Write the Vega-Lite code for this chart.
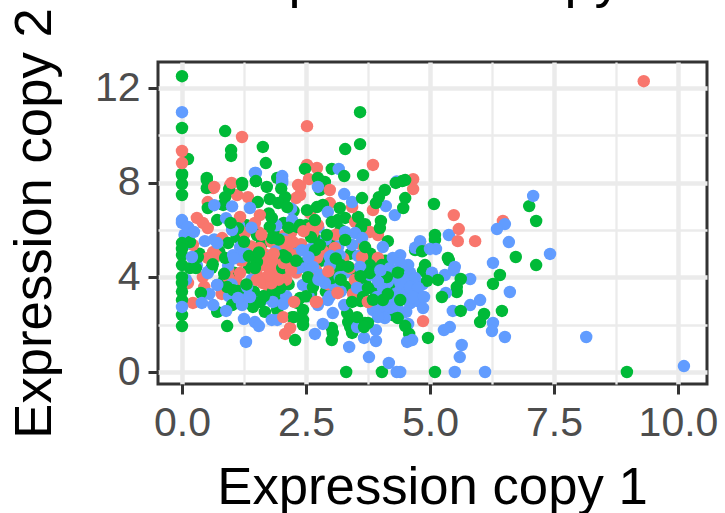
{"$schema":"https://vega.github.io/schema/vega-lite/v6.json","width":549,"height":322,"autosize":{"type":"none"},"padding":{"left":158,"top":62,"right":18,"bottom":129},"background":"white","title":{"text":"Expression copy","font":"Liberation Sans","fontSize":54,"fontWeight":"normal","color":"black","anchor":"middle","baseline":"alphabetic","offset":-43,"dx":-9},"view":{"fill":"white","stroke":"#333333","strokeWidth":3},"data":{"values":[
{"x":0.35,"y":5.0,"g":"b"},{"x":0.6,"y":4.4,"g":"b"},{"x":0.75,"y":5.1,"g":"b"},{"x":0.85,"y":3.9,"g":"b"},{"x":1.05,"y":4.2,"g":"b"},{"x":1.1,"y":5.7,"g":"b"},{"x":1.3,"y":6.2,"g":"b"},{"x":1.35,"y":4.4,"g":"b"},{"x":1.45,"y":3.4,"g":"b"},{"x":1.6,"y":5.4,"g":"b"},{"x":1.65,"y":3.2,"g":"b"},{"x":1.75,"y":6.7,"g":"b"},{"x":1.85,"y":5.9,"g":"b"},{"x":1.95,"y":3.1,"g":"b"},{"x":2.05,"y":6.3,"g":"b"},{"x":2.15,"y":3.7,"g":"b"},{"x":2.25,"y":6.8,"g":"b"},{"x":2.35,"y":5.3,"g":"b"},{"x":2.45,"y":4.6,"g":"b"},{"x":2.5,"y":6.2,"g":"b"},{"x":2.6,"y":3.3,"g":"b"},{"x":2.7,"y":5.6,"g":"b"},{"x":2.8,"y":4.7,"g":"b"},{"x":2.9,"y":3.4,"g":"b"},{"x":3.0,"y":5.4,"g":"b"},{"x":3.1,"y":4.4,"g":"b"},{"x":3.2,"y":6.0,"g":"b"},{"x":3.3,"y":3.6,"g":"b"},{"x":3.4,"y":5.0,"g":"b"},{"x":3.5,"y":4.2,"g":"b"},{"x":3.6,"y":3.0,"g":"b"},{"x":3.7,"y":3.7,"g":"b"},{"x":3.8,"y":5.0,"g":"b"},{"x":3.9,"y":3.4,"g":"b"},{"x":4.1,"y":4.7,"g":"b"},{"x":4.2,"y":3.7,"g":"b"},{"x":4.45,"y":4.3,"g":"b"},{"x":4.25,"y":2.4,"g":"b"},
{"x":0.45,"y":3.6,"g":"a"},{"x":0.7,"y":4.9,"g":"a"},{"x":0.8,"y":3.3,"g":"a"},{"x":1.1,"y":3.8,"g":"a"},{"x":1.2,"y":4.7,"g":"a"},{"x":1.25,"y":3.3,"g":"a"},{"x":1.4,"y":5.3,"g":"a"},{"x":1.5,"y":4.2,"g":"a"},{"x":1.55,"y":5.9,"g":"a"},{"x":1.65,"y":5.0,"g":"a"},{"x":1.7,"y":3.7,"g":"a"},{"x":1.8,"y":5.5,"g":"a"},{"x":1.9,"y":4.0,"g":"a"},{"x":2.0,"y":5.3,"g":"a"},{"x":2.1,"y":3.9,"g":"a"},{"x":2.2,"y":5.9,"g":"a"},{"x":2.3,"y":4.2,"g":"a"},{"x":2.4,"y":5.4,"g":"a"},{"x":2.5,"y":3.7,"g":"a"},{"x":2.6,"y":6.1,"g":"a"},{"x":2.7,"y":4.3,"g":"a"},{"x":2.85,"y":5.1,"g":"a"},{"x":2.95,"y":3.7,"g":"a"},{"x":3.1,"y":5.8,"g":"a"},{"x":3.25,"y":4.8,"g":"a"},{"x":3.45,"y":3.3,"g":"a"},{"x":3.6,"y":5.4,"g":"a"},{"x":3.85,"y":4.2,"g":"a"},
{"x":0.3,"y":4.5,"g":"c"},{"x":0.55,"y":3.3,"g":"c"},{"x":0.65,"y":5.6,"g":"c"},{"x":0.95,"y":3.2,"g":"c"},{"x":1.15,"y":6.2,"g":"c"},{"x":1.4,"y":3.9,"g":"c"},{"x":1.6,"y":3.0,"g":"c"},{"x":1.8,"y":4.9,"g":"c"},{"x":2.1,"y":3.2,"g":"c"},{"x":2.3,"y":5.0,"g":"c"},{"x":2.55,"y":3.2,"g":"c"},{"x":2.75,"y":6.1,"g":"c"},{"x":2.9,"y":5.6,"g":"c"},{"x":3.05,"y":3.7,"g":"c"},{"x":3.15,"y":5.3,"g":"c"},{"x":3.3,"y":4.2,"g":"c"},{"x":3.55,"y":4.9,"g":"c"},{"x":3.7,"y":3.5,"g":"c"},{"x":3.9,"y":4.3,"g":"c"},{"x":4.1,"y":3.4,"g":"c"},{"x":4.3,"y":3.3,"g":"c"},{"x":4.5,"y":3.4,"g":"c"},{"x":4.6,"y":2.9,"g":"c"},{"x":4.75,"y":3.0,"g":"c"},{"x":4.25,"y":2.9,"g":"c"},{"x":4.05,"y":2.5,"g":"c"},{"x":4.45,"y":2.5,"g":"c"},{"x":4.15,"y":3.8,"g":"c"},{"x":4.6,"y":4.2,"g":"c"},{"x":4.85,"y":3.7,"g":"c"},
{"x":1.63,"y":3.76,"g":"a"},{"x":1.51,"y":3.89,"g":"a"},{"x":1.77,"y":3.46,"g":"a"},{"x":1.98,"y":4.1,"g":"a"},{"x":1.77,"y":4.31,"g":"a"},{"x":1.61,"y":4.52,"g":"a"},{"x":1.87,"y":4.65,"g":"a"},{"x":2.08,"y":4.27,"g":"a"},{"x":2.18,"y":4.65,"g":"a"},{"x":1.71,"y":4.82,"g":"a"},{"x":1.81,"y":4.39,"g":"a"},{"x":2.12,"y":5.24,"g":"a"},{"x":1.57,"y":5.24,"g":"a"},{"x":2.24,"y":5.49,"g":"a"},{"x":2.24,"y":4.94,"g":"a"},{"x":2.08,"y":5.79,"g":"a"},{"x":1.47,"y":6.3,"g":"a"},{"x":1.57,"y":6.63,"g":"a"},{"x":1.33,"y":7.39,"g":"a"},{"x":1.11,"y":7.48,"g":"a"},{"x":2.34,"y":7.9,"g":"a"},{"x":2.38,"y":7.48,"g":"a"},{"x":2.38,"y":7.86,"g":"a"},{"x":2.3,"y":7.35,"g":"a"},{"x":2.58,"y":6.72,"g":"a"},{"x":2.74,"y":6.21,"g":"a"},{"x":2.64,"y":5.87,"g":"a"},{"x":2.72,"y":4.82,"g":"a"},{"x":3.08,"y":5.24,"g":"a"},{"x":3.39,"y":4.39,"g":"a"},{"x":3.63,"y":4.86,"g":"a"},{"x":3.95,"y":4.82,"g":"a"},{"x":3.49,"y":3.89,"g":"a"},{"x":0.93,"y":4.01,"g":"a"},{"x":1.17,"y":4.18,"g":"a"},{"x":0.93,"y":4.31,"g":"a"},{"x":0.42,"y":4.01,"g":"a"},{"x":0.12,"y":3.76,"g":"a"},{"x":0.22,"y":2.92,"g":"a"},{"x":0.81,"y":5.66,"g":"a"},{"x":0.63,"y":5.07,"g":"a"},{"x":0.52,"y":4.82,"g":"a"},{"x":0.22,"y":5.37,"g":"a"},{"x":1.27,"y":5.87,"g":"a"},{"x":1.17,"y":6.55,"g":"a"},{"x":0.3,"y":6.51,"g":"a"},{"x":0.42,"y":6.3,"g":"a"},{"x":0.52,"y":6.08,"g":"a"},{"x":0.97,"y":7.9,"g":"a"},{"x":0.63,"y":7.77,"g":"a"},{"x":0.52,"y":7.18,"g":"a"},
{"x":1.89,"y":5.1,"g":"c"},{"x":1.0,"y":3.7,"g":"c"},{"x":1.29,"y":5.0,"g":"c"},{"x":2.5,"y":4.4,"g":"c"},{"x":2.6,"y":5.2,"g":"c"},{"x":3.0,"y":4.9,"g":"c"},{"x":0.71,"y":3.68,"g":"c"},{"x":1.17,"y":3.4,"g":"c"},{"x":0.93,"y":4.5,"g":"c"},{"x":1.4,"y":3.0,"g":"c"},{"x":0.08,"y":3.9,"g":"c"},{"x":0.05,"y":5.8,"g":"c"},{"x":0.0,"y":6.3,"g":"c"},{"x":0.08,"y":5.4,"g":"c"},{"x":1.9,"y":6.2,"g":"c"},{"x":2.2,"y":6.9,"g":"c"},
{"x":0.0,"y":7.94,"g":"b"},{"x":0.0,"y":8.32,"g":"b"},{"x":0.0,"y":7.48,"g":"b"},{"x":0.5,"y":8.2,"g":"b"},{"x":0.5,"y":7.77,"g":"b"},{"x":0.95,"y":7.73,"g":"b"},{"x":1.21,"y":7.9,"g":"b"},{"x":0.87,"y":7.39,"g":"b"},{"x":0.83,"y":7.06,"g":"b"},{"x":0.52,"y":6.93,"g":"b"},{"x":1.49,"y":8.07,"g":"b"},{"x":1.71,"y":7.82,"g":"b"},{"x":1.92,"y":8.2,"g":"b"},{"x":1.53,"y":7.18,"g":"b"},{"x":1.77,"y":7.31,"g":"b"},{"x":2.08,"y":7.39,"g":"b"},{"x":1.94,"y":7.14,"g":"b"},{"x":2.12,"y":6.97,"g":"b"},{"x":1.81,"y":6.51,"g":"b"},{"x":0.71,"y":6.42,"g":"b"},{"x":1.13,"y":6.08,"g":"b"},{"x":1.77,"y":6.13,"g":"b"},{"x":1.81,"y":5.66,"g":"b"},{"x":1.51,"y":5.79,"g":"b"},{"x":2.32,"y":6.13,"g":"b"},{"x":2.04,"y":4.94,"g":"b"},{"x":2.02,"y":4.39,"g":"b"},{"x":0.16,"y":5.49,"g":"b"},{"x":0.0,"y":5.45,"g":"b"},{"x":0.0,"y":4.94,"g":"b"},{"x":0.0,"y":4.52,"g":"b"},{"x":0.32,"y":4.86,"g":"b"},{"x":0.16,"y":4.39,"g":"b"},{"x":0.28,"y":4.39,"g":"b"},{"x":0.93,"y":5.45,"g":"b"},{"x":0.87,"y":4.82,"g":"b"},{"x":1.51,"y":4.65,"g":"b"},{"x":1.47,"y":4.39,"g":"b"},
{"x":0.0,"y":4.01,"g":"b"},{"x":0.0,"y":3.76,"g":"b"},{"x":0.0,"y":3.04,"g":"b"},{"x":0.0,"y":2.41,"g":"b"},{"x":0.0,"y":1.94,"g":"b"},{"x":0.38,"y":3.34,"g":"b"},{"x":0.71,"y":2.54,"g":"b"},{"x":0.91,"y":1.94,"g":"b"},{"x":1.01,"y":2.83,"g":"b"},{"x":0.91,"y":3.59,"g":"b"},{"x":1.03,"y":3.46,"g":"b"},{"x":1.13,"y":3.42,"g":"b"},{"x":1.43,"y":2.75,"g":"b"},{"x":1.57,"y":2.96,"g":"b"},{"x":1.83,"y":3.38,"g":"b"},{"x":1.98,"y":3.55,"g":"b"},{"x":1.67,"y":2.54,"g":"b"},{"x":1.92,"y":2.62,"g":"b"},{"x":2.32,"y":2.92,"g":"b"},
{"x":0.0,"y":2.75,"g":"c"},{"x":0.4,"y":2.92,"g":"c"},{"x":0.63,"y":2.83,"g":"c"},{"x":0.89,"y":2.58,"g":"c"},{"x":1.21,"y":2.83,"g":"c"},{"x":0.52,"y":4.18,"g":"c"},{"x":0.71,"y":3.68,"g":"c"},{"x":1.31,"y":3.59,"g":"c"},{"x":1.13,"y":3.13,"g":"c"},{"x":1.37,"y":3.17,"g":"c"},{"x":1.83,"y":2.96,"g":"c"},{"x":2.04,"y":2.87,"g":"c"},{"x":1.25,"y":2.24,"g":"c"},{"x":1.47,"y":2.11,"g":"c"},{"x":1.55,"y":1.94,"g":"c"},{"x":1.29,"y":1.27,"g":"c"},{"x":1.81,"y":2.2,"g":"c"},{"x":1.92,"y":2.2,"g":"c"},
{"x":0.0,"y":6.42,"g":"c"},{"x":0.12,"y":6.13,"g":"c"},{"x":0.24,"y":5.92,"g":"c"},{"x":0.46,"y":5.53,"g":"c"},{"x":0.71,"y":5.45,"g":"c"},{"x":0.89,"y":6.5,"g":"c"},{"x":1.01,"y":6.0,"g":"c"},{"x":1.01,"y":7.0,"g":"c"},{"x":0.65,"y":7.05,"g":"c"},{"x":1.37,"y":6.93,"g":"c"},{"x":0.2,"y":4.86,"g":"c"},{"x":0.52,"y":4.23,"g":"c"},{"x":1.17,"y":5.28,"g":"c"},{"x":1.03,"y":4.94,"g":"c"},{"x":1.21,"y":4.86,"g":"c"},{"x":2.04,"y":5.62,"g":"c"},{"x":2.02,"y":7.99,"g":"c"},{"x":1.49,"y":8.41,"g":"c"},{"x":2.02,"y":8.28,"g":"c"},{"x":2.34,"y":4.39,"g":"c"},
{"x":0.98,"y":6.3,"g":"b"},{"x":1.25,"y":5.5,"g":"b"},{"x":0.0,"y":5.2,"g":"b"},{"x":0.0,"y":3.4,"g":"b"},
{"x":0.12,"y":9.0,"g":"b"},{"x":0.0,"y":8.37,"g":"b"},{"x":0.0,"y":12.5,"g":"b"},{"x":0.0,"y":10.98,"g":"c"},{"x":0.0,"y":10.31,"g":"b"},{"x":0.0,"y":9.34,"g":"a"},{"x":0.0,"y":8.83,"g":"a"},{"x":0.87,"y":10.18,"g":"b"},{"x":1.21,"y":9.93,"g":"a"},{"x":0.99,"y":9.38,"g":"b"},{"x":0.99,"y":9.13,"g":"b"},{"x":1.63,"y":9.51,"g":"b"},{"x":1.47,"y":8.41,"g":"c"},{"x":1.69,"y":8.83,"g":"b"},{"x":2.52,"y":10.39,"g":"a"},{"x":2.52,"y":8.75,"g":"a"},{"x":2.72,"y":8.62,"g":"a"},{"x":2.48,"y":8.58,"g":"b"},{"x":2.56,"y":8.15,"g":"a"},{"x":2.74,"y":8.2,"g":"b"},{"x":2.88,"y":8.03,"g":"b"},{"x":3.02,"y":8.58,"g":"b"},{"x":3.16,"y":8.58,"g":"c"},{"x":3.27,"y":8.28,"g":"b"},{"x":3.29,"y":9.42,"g":"b"},{"x":3.59,"y":10.98,"g":"b"},{"x":3.59,"y":9.63,"g":"b"},{"x":3.65,"y":8.32,"g":"b"},{"x":3.85,"y":8.75,"g":"a"},{"x":0.5,"y":8.11,"g":"b"},{"x":0.65,"y":7.82,"g":"a"},{"x":1.0,"y":7.99,"g":"a"},{"x":1.21,"y":7.99,"g":"b"},{"x":1.49,"y":8.07,"g":"b"},{"x":2.02,"y":8.11,"g":"c"},{"x":2.0,"y":7.75,"g":"b"},
{"x":2.78,"y":7.69,"g":"b"},{"x":2.98,"y":7.69,"g":"a"},{"x":2.74,"y":7.82,"g":"c"},{"x":2.98,"y":7.14,"g":"a"},{"x":2.84,"y":7.06,"g":"b"},{"x":2.72,"y":6.97,"g":"b"},{"x":2.52,"y":6.84,"g":"b"},{"x":2.94,"y":6.76,"g":"c"},{"x":2.68,"y":6.42,"g":"b"},{"x":3.02,"y":6.34,"g":"b"},{"x":3.29,"y":6.51,"g":"b"},{"x":3.14,"y":6.42,"g":"b"},{"x":3.49,"y":6.34,"g":"a"},{"x":3.55,"y":6.55,"g":"b"},{"x":3.43,"y":6.97,"g":"a"},{"x":3.18,"y":6.93,"g":"b"},{"x":3.69,"y":6.25,"g":"b"},{"x":3.79,"y":5.92,"g":"a"},{"x":3.95,"y":5.79,"g":"a"},{"x":3.61,"y":6.1,"g":"b"},{"x":2.22,"y":6.42,"g":"c"},{"x":2.38,"y":6.21,"g":"b"},{"x":3.29,"y":5.92,"g":"c"},{"x":3.49,"y":5.87,"g":"c"},{"x":3.63,"y":5.66,"g":"c"},{"x":3.43,"y":5.37,"g":"c"},{"x":3.69,"y":5.28,"g":"b"},{"x":3.29,"y":5.58,"g":"b"},{"x":2.92,"y":5.79,"g":"b"},{"x":2.78,"y":5.37,"g":"b"},{"x":2.68,"y":5.15,"g":"b"},{"x":2.42,"y":5.15,"g":"c"},{"x":3.18,"y":4.94,"g":"c"},{"x":2.98,"y":4.86,"g":"c"},{"x":3.79,"y":4.52,"g":"b"},{"x":3.59,"y":4.44,"g":"c"},{"x":3.2,"y":4.52,"g":"b"},{"x":2.98,"y":4.5,"g":"c"},{"x":2.34,"y":4.44,"g":"c"},{"x":2.64,"y":4.44,"g":"c"},{"x":4.03,"y":4.52,"g":"b"},{"x":4.19,"y":4.39,"g":"c"},
{"x":3.27,"y":7.52,"g":"c"},{"x":3.43,"y":7.18,"g":"c"},{"x":3.63,"y":7.35,"g":"b"},{"x":3.85,"y":6.84,"g":"a"},{"x":4.11,"y":7.01,"g":"c"},{"x":4.29,"y":6.63,"g":"c"},{"x":4.46,"y":6.93,"g":"b"},{"x":4.5,"y":7.35,"g":"b"},{"x":4.09,"y":7.69,"g":"b"},{"x":3.97,"y":7.39,"g":"b"},{"x":3.91,"y":7.14,"g":"b"},{"x":4.33,"y":8.05,"g":"c"},{"x":4.66,"y":8.15,"g":"a"},{"x":4.66,"y":7.73,"g":"a"},{"x":4.31,"y":7.99,"g":"b"},{"x":4.44,"y":8.07,"g":"b"},{"x":4.5,"y":8.11,"g":"b"},{"x":4.01,"y":6.38,"g":"b"},{"x":3.99,"y":6.08,"g":"b"},{"x":4.15,"y":5.53,"g":"b"},{"x":4.05,"y":5.28,"g":"c"},{"x":4.4,"y":4.94,"g":"c"},{"x":4.25,"y":4.82,"g":"c"},{"x":4.56,"y":4.52,"g":"c"},{"x":4.4,"y":4.61,"g":"c"},{"x":4.76,"y":5.24,"g":"c"},{"x":4.7,"y":5.15,"g":"b"},{"x":4.8,"y":5.49,"g":"a"},{"x":4.7,"y":5.25,"g":"c"},{"x":4.8,"y":5.53,"g":"c"},{"x":4.84,"y":5.1,"g":"b"},{"x":5.08,"y":7.1,"g":"b"},{"x":5.1,"y":5.79,"g":"b"},{"x":5.1,"y":5.58,"g":"b"},{"x":5.12,"y":5.2,"g":"c"},{"x":5.38,"y":5.79,"g":"c"},{"x":5.36,"y":4.82,"g":"b"},{"x":5.48,"y":6.63,"g":"a"},{"x":5.58,"y":6.04,"g":"a"},{"x":5.56,"y":5.53,"g":"a"},{"x":5.91,"y":5.53,"g":"a"},{"x":5.38,"y":4.73,"g":"b"},{"x":5.0,"y":5.2,"g":"c"},{"x":6.47,"y":6.38,"g":"a"},{"x":6.51,"y":6.25,"g":"c"},{"x":6.35,"y":6.04,"g":"c"},{"x":6.59,"y":5.49,"g":"c"},{"x":6.73,"y":4.86,"g":"b"},{"x":7.42,"y":4.99,"g":"c"},{"x":7.14,"y":4.52,"g":"b"},{"x":7.0,"y":7.01,"g":"b"},{"x":7.08,"y":7.44,"g":"c"},{"x":7.14,"y":6.38,"g":"b"},{"x":6.27,"y":4.61,"g":"c"},{"x":6.41,"y":4.1,"g":"b"},{"x":6.27,"y":3.72,"g":"b"},{"x":6.61,"y":3.38,"g":"c"},
{"x":4.9,"y":4.52,"g":"b"},{"x":4.86,"y":4.27,"g":"b"},{"x":5.04,"y":4.2,"g":"c"},{"x":5.5,"y":4.44,"g":"c"},{"x":5.48,"y":4.3,"g":"c"},{"x":5.3,"y":4.1,"g":"c"},{"x":5.81,"y":3.93,"g":"c"},{"x":5.62,"y":3.93,"g":"b"},{"x":4.94,"y":3.85,"g":"b"},{"x":5.16,"y":3.89,"g":"b"},{"x":5.54,"y":3.59,"g":"b"},{"x":5.54,"y":3.38,"g":"b"},{"x":5.32,"y":3.34,"g":"c"},{"x":5.24,"y":3.17,"g":"b"},
{"x":3.93,"y":3.17,"g":"c"},{"x":4.05,"y":3.55,"g":"c"},{"x":4.19,"y":3.17,"g":"c"},{"x":4.4,"y":3.46,"g":"c"},{"x":3.99,"y":2.75,"g":"c"},{"x":3.85,"y":2.62,"g":"c"},{"x":4.19,"y":2.7,"g":"c"},{"x":4.09,"y":2.28,"g":"c"},{"x":3.95,"y":2.32,"g":"c"},{"x":4.33,"y":2.75,"g":"c"},{"x":4.54,"y":3.04,"g":"c"},{"x":4.66,"y":3.17,"g":"c"},{"x":4.5,"y":3.89,"g":"c"},{"x":4.7,"y":3.97,"g":"c"},{"x":4.4,"y":3.76,"g":"c"},{"x":4.6,"y":3.59,"g":"c"},{"x":4.3,"y":4.0,"g":"c"},{"x":4.76,"y":3.55,"g":"c"},{"x":4.66,"y":3.17,"g":"c"},{"x":4.88,"y":3.17,"g":"c"},{"x":4.86,"y":2.7,"g":"c"},{"x":4.4,"y":3.04,"g":"b"},{"x":4.05,"y":3.04,"g":"b"},{"x":3.79,"y":4.18,"g":"b"},{"x":4.13,"y":4.01,"g":"b"},{"x":3.95,"y":3.8,"g":"c"},{"x":4.35,"y":4.2,"g":"b"},
{"x":4.86,"y":2.15,"g":"a"},{"x":4.52,"y":2.54,"g":"c"},{"x":4.56,"y":2.03,"g":"c"},{"x":4.5,"y":1.94,"g":"b"},{"x":4.58,"y":1.61,"g":"b"},{"x":4.96,"y":1.44,"g":"b"},{"x":4.64,"y":1.35,"g":"c"},{"x":4.54,"y":1.27,"g":"c"},{"x":4.35,"y":2.28,"g":"b"},{"x":6.01,"y":3.04,"g":"c"},{"x":5.81,"y":2.83,"g":"c"},{"x":5.46,"y":2.58,"g":"c"},{"x":5.62,"y":2.58,"g":"b"},{"x":6.45,"y":2.58,"g":"b"},{"x":6.09,"y":2.45,"g":"b"},{"x":6.01,"y":2.11,"g":"b"},{"x":6.27,"y":2.07,"g":"c"},{"x":6.25,"y":1.73,"g":"c"},{"x":6.51,"y":1.48,"g":"c"},{"x":5.4,"y":1.9,"g":"c"},{"x":5.28,"y":1.77,"g":"c"},{"x":5.64,"y":1.14,"g":"c"},{"x":5.6,"y":0.63,"g":"c"},{"x":5.1,"y":0.0,"g":"b"},{"x":5.5,"y":0.0,"g":"c"},{"x":6.11,"y":0.0,"g":"c"},{"x":4.4,"y":0.0,"g":"c"},{"x":8.15,"y":1.48,"g":"c"},{"x":8.97,"y":0.0,"g":"b"},{"x":10.12,"y":0.25,"g":"c"},{"x":9.31,"y":12.29,"g":"a"},
{"x":3.79,"y":4.1,"g":"c"},{"x":4.03,"y":0.0,"g":"b"},{"x":3.31,"y":0.0,"g":"b"},{"x":4.17,"y":0.38,"g":"c"},{"x":4.33,"y":0.0,"g":"c"},{"x":3.77,"y":0.63,"g":"c"},{"x":3.37,"y":1.06,"g":"c"},{"x":3.67,"y":1.44,"g":"c"},{"x":3.91,"y":1.31,"g":"c"},{"x":3.91,"y":1.77,"g":"c"},{"x":3.43,"y":1.65,"g":"b"},{"x":3.39,"y":1.9,"g":"b"},{"x":3.35,"y":2.11,"g":"b"},{"x":3.53,"y":1.9,"g":"c"},{"x":3.33,"y":2.49,"g":"b"},{"x":3.53,"y":2.32,"g":"b"},{"x":3.69,"y":2.07,"g":"b"},{"x":3.75,"y":2.07,"g":"b"},{"x":3.67,"y":1.9,"g":"b"},{"x":3.02,"y":1.35,"g":"b"},{"x":3.02,"y":1.86,"g":"b"},{"x":3.04,"y":1.65,"g":"b"},{"x":3.04,"y":2.49,"g":"c"},{"x":2.84,"y":2.03,"g":"c"},{"x":2.68,"y":1.61,"g":"c"},{"x":2.94,"y":3.04,"g":"c"},{"x":3.27,"y":2.83,"g":"c"},{"x":2.74,"y":2.83,"g":"c"},{"x":2.44,"y":2.62,"g":"b"},{"x":2.44,"y":2.2,"g":"b"},{"x":2.44,"y":1.99,"g":"b"},{"x":2.22,"y":2.32,"g":"b"},{"x":2.18,"y":1.86,"g":"a"},{"x":2.08,"y":1.61,"g":"a"},{"x":2.28,"y":1.35,"g":"b"},{"x":2.04,"y":2.32,"g":"a"},{"x":2.26,"y":2.32,"g":"b"},{"x":2.44,"y":3.68,"g":"c"},{"x":2.64,"y":3.59,"g":"b"},{"x":2.38,"y":3.13,"g":"b"},{"x":2.54,"y":4.01,"g":"b"},{"x":2.78,"y":4.1,"g":"c"},{"x":3.02,"y":3.97,"g":"b"},{"x":2.88,"y":3.76,"g":"c"},{"x":3.18,"y":4.01,"g":"c"},{"x":3.49,"y":3.89,"g":"a"},{"x":3.79,"y":4.18,"g":"b"},{"x":3.95,"y":3.8,"g":"c"},{"x":3.53,"y":3.55,"g":"c"},{"x":3.65,"y":3.17,"g":"b"},{"x":3.43,"y":2.96,"g":"b"},{"x":2.98,"y":3.2,"g":"c"},{"x":3.14,"y":3.34,"g":"a"},{"x":2.7,"y":2.96,"g":"a"},{"x":3.75,"y":2.96,"g":"a"},{"x":2.26,"y":2.96,"g":"a"},{"x":2.72,"y":2.96,"g":"a"},
{"x":1.65,"y":3.95,"g":"a"},{"x":1.8,"y":3.75,"g":"a"},{"x":1.95,"y":3.9,"g":"a"},{"x":2.05,"y":4.6,"g":"a"},{"x":1.75,"y":4.1,"g":"a"},{"x":1.85,"y":5.0,"g":"a"},{"x":2.2,"y":4.3,"g":"a"},{"x":1.6,"y":5.8,"g":"a"},{"x":2.1,"y":5.5,"g":"a"},{"x":1.35,"y":4.9,"g":"b"},{"x":1.55,"y":5.05,"g":"b"},{"x":2.3,"y":4.7,"g":"b"},{"x":2.6,"y":5.7,"g":"b"},{"x":1.95,"y":5.6,"g":"b"},{"x":2.15,"y":6.1,"g":"b"},{"x":1.65,"y":3.2,"g":"b"},{"x":2.5,"y":3.2,"g":"b"},{"x":3.1,"y":4.8,"g":"b"},{"x":1.4,"y":6.1,"g":"c"},{"x":2.75,"y":3.9,"g":"c"},{"x":3.2,"y":3.4,"g":"c"},{"x":1.05,"y":4.8,"g":"c"},{"x":0.62,"y":4.55,"g":"b"},{"x":0.85,"y":4.15,"g":"b"},{"x":1.3,"y":3.7,"g":"b"},{"x":2.45,"y":5.95,"g":"a"},{"x":3.35,"y":4.45,"g":"b"},{"x":3.6,"y":4.05,"g":"b"},{"x":4.0,"y":4.3,"g":"c"},{"x":3.75,"y":3.55,"g":"b"},{"x":3.2,"y":3.9,"g":"b"},{"x":2.95,"y":4.25,"g":"a"},{"x":2.55,"y":4.85,"g":"c"},{"x":2.1,"y":4.85,"g":"b"},
{"x":2.7,"y":2.96,"g":"a"},{"x":3.14,"y":3.34,"g":"a"},{"x":3.75,"y":2.96,"g":"a"},{"x":4.15,"y":3.3,"g":"b"},{"x":3.85,"y":3.05,"g":"b"}
]},
"mark":{"type":"point","filled":true,"opacity":1,"size":155,"strokeWidth":0},
"encoding":{
"x":{"field":"x","type":"quantitative","scale":{"domain":[-0.484,10.585],"nice":false,"zero":false},"axis":{"values":[0,1.25,2.5,3.75,5,6.25,7.5,8.75,10],"labelExpr":"datum.value % 2.5 === 0 ? format(datum.value,'.1f') : ''","labelFont":"Liberation Sans","labelFontSize":41,"labelColor":"#4D4D4D","labelPadding":9,"labelFlush":false,"labelOverlap":false,"domain":false,"grid":true,"gridColor":"#EBEBEB","gridWidth":{"condition":{"test":"datum.value % 2.5 === 0","value":4.5},"value":2.3},"tickColor":"#333333","tickWidth":3,"tickSize":{"condition":{"test":"datum.value % 2.5 === 0","value":10},"value":0},"title":"Expression copy 1","titleFont":"Liberation Sans","titleFontSize":52.7,"titleFontWeight":"normal","titleColor":"black","titleBaseline":"alphabetic","titleX":274,"titleY":119}},
"y":{"field":"y","type":"quantitative","scale":{"domain":[-0.507,13.1],"nice":false,"zero":false},"axis":{"values":[0,2,4,6,8,10,12],"labelExpr":"datum.value % 4 === 0 ? format(datum.value,'d') : ''","labelFont":"Liberation Sans","labelFontSize":41,"labelColor":"#4D4D4D","labelPadding":8,"labelOverlap":false,"labelFlush":false,"domain":false,"grid":true,"gridColor":"#EBEBEB","gridWidth":{"condition":{"test":"datum.value % 4 === 0","value":4.5},"value":2.3},"tickColor":"#333333","tickWidth":3,"tickSize":{"condition":{"test":"datum.value % 4 === 0","value":10},"value":0},"title":"Expression copy 2","titleFont":"Liberation Sans","titleFontSize":52.7,"titleFontWeight":"normal","titleColor":"black","titleBaseline":"alphabetic","titleX":-108,"titleY":161}},
"color":{"field":"g","type":"nominal","scale":{"domain":["a","b","c"],"range":["#F8766D","#00BA38","#619CFF"]},"legend":null}
}}
